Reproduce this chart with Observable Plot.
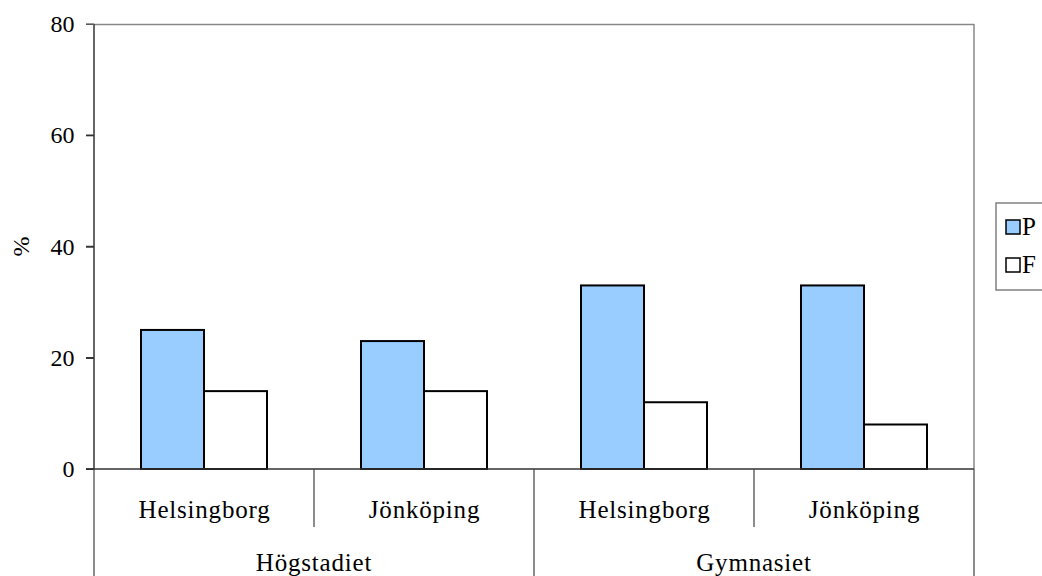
<!DOCTYPE html>
<html>
<head>
<meta charset="utf-8">
<script src="https://cdn.jsdelivr.net/npm/d3@7"></script>
<script src="https://cdn.jsdelivr.net/npm/@observablehq/plot@0.6"></script>
<style>
  body { margin: 0; background: #fff; }
  #chart svg text { font-family: "Liberation Serif", "Times New Roman", serif !important; fill: #000; }
  #chart svg .cat text { letter-spacing: 0.8px; }
</style>
</head>
<body>
<div id="chart"></div>
<script>
// School level and city for each category along the bottom axis
const groups = ["Högstadiet", "Högstadiet", "Gymnasiet", "Gymnasiet"];
const cities = ["Helsingborg", "Jönköping", "Helsingborg", "Jönköping"];

// Series (legend entries) and their fills
const seriesNames = ["P", "F"];
const seriesColors = ["#99ccff", "#ffffff"];

// Percentages per category
const valuesP = [25, 23, 33, 33];
const valuesF = [14, 14, 12, 8];

// Value axis
const yTicks = [0, 20, 40, 60, 80];
const yLabel = "%";

const keys = cities.map((c, i) => `${groups[i]}|${c}`);
const rows = keys.flatMap((k, i) => [
  {key: k, series: seriesNames[0], value: valuesP[i]},
  {key: k, series: seriesNames[1], value: valuesF[i]}
]);

const W = 1042, H = 576;

const chart = Plot.plot({
  width: W,
  height: H,
  marginLeft: 94,
  marginRight: 68,
  marginTop: 24,
  marginBottom: 107,
  style: {fontSize: "24px", background: "white", color: "black"},
  facet: {data: rows, x: "key"},
  fx: {
    domain: keys,
    padding: 0,
    label: null,
    tickSize: 0,
    tickPadding: 31,
    tickFormat: (k) => k.split("|")[1]
  },
  x: {domain: seriesNames, paddingInner: 0, paddingOuter: 0.746, axis: null},
  y: {domain: [0, 80], ticks: yTicks, tickSize: 8, tickPadding: 12, label: null},
  color: {domain: seriesNames, range: seriesColors},
  marks: [
    Plot.ruleY([80], {stroke: "#888", strokeWidth: 1.5}),
    Plot.barY(rows, {x: "series", y: "value", fill: "series", stroke: "black", strokeWidth: 2})
  ]
});

document.getElementById("chart").appendChild(chart);

// Frame lines, category separators, group labels, axis title and legend
const svg = d3.select(chart);
const fx = chart.scale("fx");
const y = chart.scale("y");
const color = chart.scale("color");

const left = fx.apply(keys[0]);
const right = fx.apply(keys[keys.length - 1]) + fx.bandwidth;
const y0 = y.apply(0);
const yTop = y.apply(80);

const g = svg.append("g");

// value axis line, tick marks and right border
g.append("line")
  .attr("x1", left).attr("x2", left).attr("y1", yTop).attr("y2", y0)
  .attr("stroke", "#333").attr("stroke-width", 1.5);
yTicks.forEach((t) => {
  g.append("line")
    .attr("x1", left - 8).attr("x2", left).attr("y1", y.apply(t)).attr("y2", y.apply(t))
    .attr("stroke", t === 80 ? "#777" : "#333").attr("stroke-width", 1.5);
});
g.append("line")
  .attr("x1", right).attr("x2", right).attr("y1", yTop).attr("y2", y0)
  .attr("stroke", "#888").attr("stroke-width", 1.5);

// category axis line
g.append("line")
  .attr("x1", left - 8).attr("x2", right).attr("y1", y0).attr("y2", y0)
  .attr("stroke", "#333").attr("stroke-width", 1.5);

// separators between categories; long ones between school levels
for (let i = 0; i <= keys.length; i++) {
  const x = i < keys.length ? fx.apply(keys[i]) : right;
  const full = i === 0 || i === keys.length || groups[i] !== groups[i - 1];
  g.append("line")
    .attr("x1", x).attr("x2", x)
    .attr("y1", y0).attr("y2", full ? H : y0 + 58)
    .attr("stroke", "#404040").attr("stroke-width", 1.2);
}

// school level labels centred under their cities
const levels = [...new Set(groups)];
const cat = g.append("g").attr("class", "cat");
levels.forEach((lev) => {
  const idx = groups.map((d, i) => (d === lev ? i : -1)).filter((i) => i >= 0);
  const x1 = fx.apply(keys[idx[0]]);
  const x2 = fx.apply(keys[idx[idx.length - 1]]) + fx.bandwidth;
  cat.append("text")
    .attr("x", (x1 + x2) / 2).attr("y", y0 + 102)
    .attr("text-anchor", "middle")
    .attr("font-size", 25)
    .text(lev);
});
// city labels get the same letter spacing
svg.selectAll("[aria-label^='fx-axis'] text, g[aria-label='fx-axis'] text")
  .style("letter-spacing", "0.8px").style("font-size", "25px");

// axis title
g.append("text")
  .attr("transform", `translate(21,${(yTop + y0) / 2}) rotate(-90)`)
  .attr("text-anchor", "middle")
  .attr("dominant-baseline", "central")
  .attr("font-size", 24)
  .text(yLabel);

// legend
const lg = svg.append("g").attr("transform", `translate(${right + 22},${yTop + 179})`);
lg.append("rect")
  .attr("x", 0).attr("y", 0).attr("width", 70).attr("height", 87)
  .attr("fill", "white").attr("stroke", "#808080").attr("stroke-width", 1.5);
seriesNames.forEach((s, i) => {
  const row = lg.append("g").attr("transform", `translate(10,${17 + i * 38})`);
  row.append("rect")
    .attr("x", 0).attr("y", 0).attr("width", 14).attr("height", 14)
    .attr("fill", color.apply(s)).attr("stroke", "black").attr("stroke-width", 1.5);
  row.append("text")
    .attr("x", 16).attr("y", 15)
    .attr("text-anchor", "start")
    .style("font-size", "25px")
    .text(s);
});
</script>
</body>
</html>
